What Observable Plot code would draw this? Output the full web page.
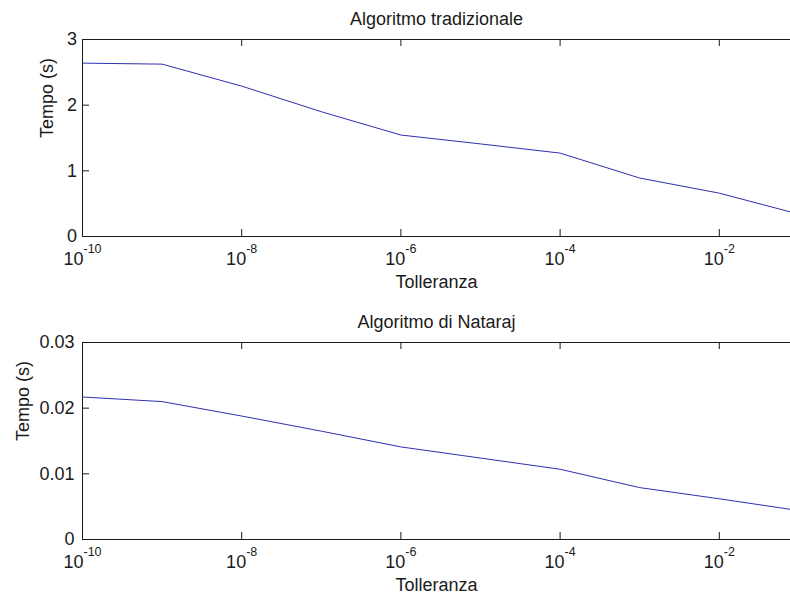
<!DOCTYPE html>
<html>
<head>
<meta charset="utf-8">
<script src="https://cdn.jsdelivr.net/npm/d3@7"></script>
<script src="https://cdn.jsdelivr.net/npm/@observablehq/plot@0.6"></script>
<style>
  html, body { margin: 0; padding: 0; background: #fff; overflow: hidden; }
  #chart { width: 790px; height: 596px; overflow: hidden; }
  #chart svg { display: block; }
</style>
</head>
<body>
<div id="chart"></div>
<script>
// ---- data ----
const tolerances = [1e-10, 1e-9, 1e-8, 1e-7, 1e-6, 1e-5, 1e-4, 1e-3, 1e-2, 1e-1];
const traditionalTimes = [2.64, 2.625, 2.29, 1.90, 1.545, 1.41, 1.27, 0.89, 0.66, 0.34];
const natarajTimes = [0.0217, 0.0210, 0.0188, 0.0165, 0.0141, 0.0124, 0.0107, 0.0079, 0.0062, 0.0044];
const xTicks = [1e-10, 1e-8, 1e-6, 1e-4, 1e-2];
const topYTicks = [0, 1, 2, 3];
const bottomYTicks = [0, 0.01, 0.02, 0.03];
const topTitle = "Algoritmo tradizionale";
const bottomTitle = "Algoritmo di Nataraj";
const xLabel = "Tolleranza";
const yLabel = "Tempo (s)";

const FONT = "'Liberation Sans', Arial, Helvetica, sans-serif";
const INK = "#1a1a1a";
const LINE = "#3030b0";

function panel({times, yDomain, yTicks, title, height, marginTop, marginBottom, yLabelDx, yTickDx, tickFmt}) {
  const marginLeft = 82;
  const width = 790;
  const frameH = height - marginTop - marginBottom;
  const frameW = width - marginLeft;
  const rows = tolerances.map((t, i) => ({t, v: times[i]}));
  const svg = Plot.plot({
    width, height, marginLeft, marginRight: 0, marginTop, marginBottom,
    style: {fontFamily: FONT, fontSize: "18px", background: "white", overflow: "hidden", color: INK},
    x: {type: "log", domain: [1e-10, 1e-1], range: [marginLeft, marginLeft + 9 * 79.6], axis: null},
    y: {domain: yDomain, axis: null},
    marks: [
      // frame (top, bottom, left) – right edge lies outside the cropped picture
      Plot.ruleY([yDomain[0], yDomain[1]], {stroke: INK, strokeWidth: 1}),
      Plot.ruleX([1e-10], {stroke: INK, strokeWidth: 1}),
      // inward ticks
      Plot.ruleX(xTicks, {stroke: INK, insetTop: frameH - 7}),
      Plot.ruleX(xTicks, {stroke: INK, insetBottom: frameH - 7}),
      Plot.ruleY(yTicks, {stroke: INK, insetRight: frameW - 7}),
      // data
      Plot.line(rows, {x: "t", y: "v", stroke: LINE, strokeWidth: 1, clip: true}),
      // y tick labels
      Plot.text(yTicks, {y: d => d, frameAnchor: "left", text: tickFmt, textAnchor: "end", dx: yTickDx, fill: INK, fontSize: 18}),
      // x tick labels (exponent turned into superscript below)
      Plot.text(xTicks, {x: d => d, frameAnchor: "bottom", text: d => "10^" + Math.round(Math.log10(d)), lineAnchor: "bottom", dy: 28.5, fill: INK, fontSize: 18}),
      // title, axis labels
      Plot.text([title], {frameAnchor: "top", lineAnchor: "bottom", dy: -14.5, fill: INK, fontSize: 18}),
      Plot.text([xLabel], {frameAnchor: "bottom", lineAnchor: "bottom", dy: 51.5, fill: INK, fontSize: 18}),
      Plot.text([yLabel], {frameAnchor: "left", rotate: -90, dx: yLabelDx, fill: INK, fontSize: 18})
    ]
  });
  d3.select(svg).selectAll("text").filter(function() {
    return this.textContent.startsWith("10^");
  }).each(function() {
    const exp = this.textContent.slice(3).replace("\u2212", "-");
    const t = d3.select(this);
    t.text(null);
    t.append("tspan").text("10");
    t.append("tspan").attr("dy", "-12").attr("font-size", "12.5").text(exp);
  });
  return svg;
}

const root = document.getElementById("chart");
root.appendChild(panel({
  times: traditionalTimes, yDomain: [0, 3], yTicks: topYTicks, title: topTitle,
  height: 300, marginTop: 39, marginBottom: 64, yLabelDx: -35, yTickDx: -5.5,
  tickFmt: d => String(d)
}));
root.appendChild(panel({
  times: natarajTimes, yDomain: [0, 0.03], yTicks: bottomYTicks, title: bottomTitle,
  height: 296, marginTop: 42, marginBottom: 57, yLabelDx: -59, yTickDx: -8,
  tickFmt: d => d === 0 ? "0" : d.toFixed(2)
}));
</script>
</body>
</html>
